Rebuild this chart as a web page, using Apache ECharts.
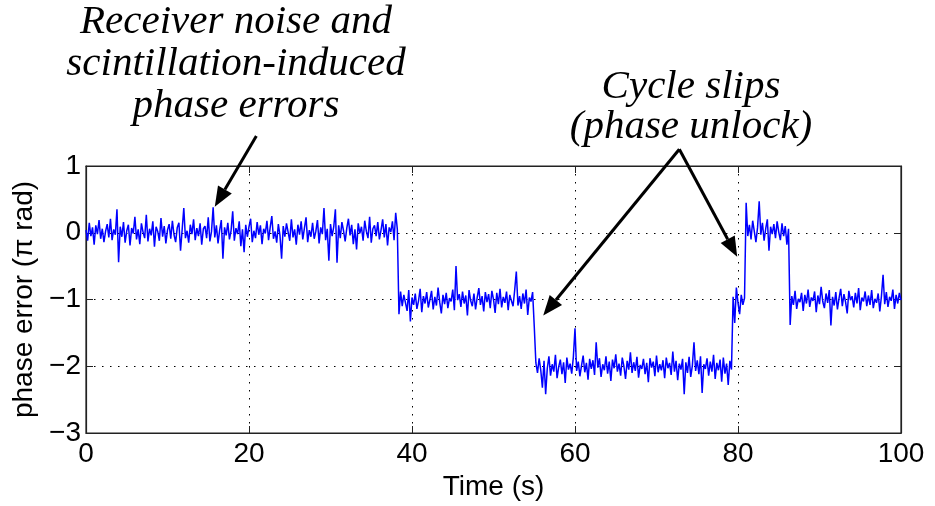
<!DOCTYPE html>
<html>
<head>
<meta charset="utf-8">
<title>phase error</title>
<script src="https://cdn.jsdelivr.net/npm/echarts@6/dist/echarts.min.js"></script>
<style>
    html, body { margin: 0; padding: 0; background: #fff; }
    #chart { width: 935px; height: 506px; }
</style>
</head>
<body>
<div id="chart"></div>
<script>
// sampling step of the trace (s)
const DT = 0.2;

// x / y ticks
const xTicks = [0, 20, 40, 60, 80, 100];
const yTicks = [-3, -2, -1, 0, 1];

// locked, near 0 (t = 0 .. 38.2 s)
const segLock0Start = 0;
const segLock0 = [
    0.04, -0.12, 0.15, -0.05, 0.08, -0.18, 0.11, -0.02, 0.19, -0.09,
    0.06, -0.14, 0.02, 0.13, -0.07, 0.21, -0.11, 0.05, -0.03, 0.35,
    -0.44, 0.09, -0.06, 0.16, -0.15, 0.03, 0.12, -0.19, 0.07, -0.01,
    0.24, -0.10, 0.05, -0.17, 0.14, 0.01, -0.08, 0.27, -0.13, 0.06,
    -0.04, 0.17, -0.21, 0.09, 0.02, -0.12, 0.22, -0.06, 0.10, -0.16,
    0.04, 0.13, -0.09, 0.18, -0.03, -0.14, 0.08, 0.15, -0.27, 0.05,
    0.37, -0.08, 0.03, -0.15, 0.12, -0.02, 0.20, -0.11, 0.07, -0.05,
    0.14, -0.18, 0.06, 0.10, -0.08, 0.23, -0.13, 0.02, 0.38, -0.07,
    0.11, -0.16, 0.04, 0.19, -0.39, 0.08, -0.04, 0.15, -0.10, 0.03,
    0.32, -0.12, 0.07, -0.02, 0.17, -0.20, 0.05, -0.29, 0.12, -0.06,
    0.09, 0.21, -0.14, 0.03, -0.08, 0.16, -0.03, 0.11, -0.17, 0.06,
    -0.01, 0.18, -0.11, 0.08, 0.25, -0.09, 0.02, -0.15, 0.13, -0.04,
    -0.39, 0.10, -0.06, 0.14, 0.01, -0.12, 0.20, -0.07, 0.05, -0.18,
    0.12, -0.03, 0.17, -0.10, 0.07, 0.23, -0.14, 0.04, -0.06, 0.15,
    -0.09, 0.02, 0.19, -0.16, 0.08, -0.02, 0.37, -0.11, 0.06, -0.42,
    0.13, -0.05, 0.09, 0.35, -0.45, 0.11, -0.08, 0.16, 0.03, -0.13,
    0.07, 0.21, -0.04, 0.12, -0.17, 0.05, -0.25, 0.14, -0.01, 0.09,
    -0.12, 0.18, 0.02, -0.08, 0.24, -0.15, 0.06, 0.11, -0.05, 0.16,
    -0.10, 0.04, 0.20, -0.07, 0.13, -0.19, 0.08, 0.01, 0.17, -0.11,
    0.30, 0.05
];

// first slip, near -1 (t = 38.4 .. 55.0 s)
const segSlip1Start = 38.4;
const segSlip1 = [
    -1.22, -0.88, -1.10, -0.93, -1.05, -1.17, -0.86, -1.33, -0.97, -1.08,
    -0.91, -1.14, -1.02, -0.84, -1.19, -0.95, -1.06, -0.89, -1.12, -1.00,
    -0.87, -1.15, -0.96, -1.09, -0.82, -1.04, -1.21, -0.93, -1.07, -0.90,
    -1.13, -0.98, -1.03, -0.85, -1.16, -0.50, -1.01, -0.92, -1.11, -0.88,
    -1.06, -0.94, -1.24, -0.86, -1.02, -1.10, -0.91, -1.15, -0.97, -0.83,
    -1.08, -0.95, -1.18, -0.89, -1.04, -0.92, -1.13, -0.87, -1.00, -1.20,
    -0.90, -1.07, -0.84, -1.12, -0.96, -1.05, -0.88, -1.16, -0.93, -1.02,
    -1.10, -0.86, -0.58, -1.09, -0.95, -1.14, -0.91, -1.06, -0.85, -1.23,
    -0.97, -1.03, -0.89, -1.40
];

// second slip, near -2 (t = 55.2 .. 79.2 s)
const segSlip2Start = 55.2;
const segSlip2 = [
    -1.95, -2.10, -1.88, -2.06, -2.32, -1.92, -2.42, -2.03, -1.85, -2.14,
    -1.97, -2.08, -1.83, -2.18, -2.01, -1.90, -2.12, -1.94, -2.25, -1.87,
    -2.05, -1.96, -2.11, -1.86, -1.43, -2.07, -1.93, -2.15, -1.99, -1.84,
    -2.09, -1.95, -2.20, -1.89, -2.04, -1.91, -2.13, -1.64, -2.02, -1.88,
    -2.16, -1.97, -2.06, -1.85, -2.11, -1.93, -2.22, -1.90, -2.03, -1.82,
    -2.08, -1.96, -2.14, -1.87, -2.00, -2.19, -1.92, -2.05, -1.79, -2.10,
    -1.94, -2.07, -1.86, -2.17, -1.98, -2.04, -1.89, -2.12, -1.95, -2.24,
    -1.88, -2.02, -1.93, -2.15, -1.84, -2.09, -1.97, -2.06, -1.91, -2.18,
    -1.87, -2.03, -1.95, -2.13, -1.78, -2.08, -1.92, -2.21, -1.96, -2.05,
    -1.89, -2.42, -1.94, -2.10, -1.86, -2.16, -1.99, -1.64, -2.07, -1.91,
    -2.12, -1.85, -2.40, -1.97, -2.04, -1.88, -2.14, -1.93, -2.08, -1.83,
    -2.19, -1.95, -2.06, -1.90, -2.23, -1.87, -2.11, -1.96, -2.28, -1.92,
    -2.05
];

// short step back to -1 (t = 79.4 .. 80.8 s)
const segSlip3Start = 79.4;
const segSlip3 = [-0.96, -1.35, -0.82, -1.05, -1.22, -0.93, -1.08, -0.98];

// back near 0 (t = 81.0 .. 86.2 s)
const segLock1Start = 81.0;
const segLock1 = [
    0.45, -0.05, 0.12, -0.10, 0.18, 0.02, -0.14, 0.08, 0.47, -0.03,
    0.15, -0.12, 0.06, 0.20, -0.27, 0.09, -0.02, 0.13, -0.08, 0.17,
    0.01, -0.11, 0.14, -0.05, 0.10, -0.18, 0.06
];

// last slip, near -1 (t = 86.4 .. 100 s)
const segSlip4Start = 86.4;
const segSlip4 = [
    -1.38, -0.95, -1.08, -0.87, -1.14, -0.99, -1.04, -0.90, -1.17, -0.93,
    -1.06, -0.85, -1.11, -0.97, -1.02, -0.88, -1.19, -0.94, -1.07, -0.81,
    -1.03, -1.13, -0.91, -1.05, -0.86, -1.39, -0.96, -1.09, -0.89, -1.15,
    -0.98, -0.84, -1.10, -0.92, -1.04, -1.21, -0.87, -1.01, -0.95, -1.12,
    -0.90, -1.06, -0.83, -1.16, -0.97, -1.03, -0.88, -1.10, -0.94, -1.08,
    -0.86, -1.13, -0.99, -1.05, -0.91, -1.18, -0.95, -0.63, -1.07, -0.89,
    -1.11, -0.96, -1.02, -0.85, -1.14, -0.93, -1.06, -0.90, -1.01
];

const segments = [
    [segLock0Start, segLock0],
    [segSlip1Start, segSlip1],
    [segSlip2Start, segSlip2],
    [segSlip3Start, segSlip3],
    [segLock1Start, segLock1],
    [segSlip4Start, segSlip4]
];

function buildTrace() {
    const pts = [];
    segments.forEach(seg => {
        const t0 = seg[0];
        seg[1].forEach((v, i) => {
            pts.push([Math.round((t0 + i * DT) * 100) / 100, v]);
        });
    });
    return pts;
}

function fmtMinus(v) {
    return String(v).replace('-', '\u2212');
}

const axisFont = '"Liberation Sans", Arial, sans-serif';
const noteFont = 'italic 41px "Liberation Serif", "Times New Roman", serif';

const chart = echarts.init(document.getElementById('chart'), null, { renderer: 'canvas' });

const gridDash = { color: '#000', width: 1, type: [1.5, 6.5] };
const frameLine = { show: true, onZero: false, lineStyle: { color: '#222', width: 1.2 } };
const inTick = { show: true, inside: true, length: 7, lineStyle: { color: '#222' } };

const option = {
    animation: false,
    backgroundColor: '#fff',
    grid: {
        left: 86, right: 34, top: 166, bottom: 70,
        show: true, borderColor: '#222', borderWidth: 1.2, backgroundColor: 'transparent'
    },
    xAxis: [{
        type: 'value', min: xTicks[0], max: xTicks[xTicks.length - 1], interval: 20,
        name: 'Time (s)', nameLocation: 'middle', nameGap: 40,
        nameTextStyle: { fontFamily: axisFont, fontSize: 28, color: '#000' },
        axisLine: frameLine,
        axisTick: inTick,
        axisLabel: { fontFamily: axisFont, fontSize: 28, color: '#000', margin: 7 },
        splitLine: { show: true, lineStyle: gridDash }
    }, {
        type: 'value', position: 'top', min: 0, max: 100, interval: 20,
        axisLine: frameLine, axisTick: inTick,
        axisLabel: { show: false }, splitLine: { show: false }
    }],
    yAxis: [{
        type: 'value', min: yTicks[0], max: yTicks[yTicks.length - 1], interval: 1,
        name: 'phase error (\u03c0 rad)', nameLocation: 'middle', nameGap: 40, nameRotate: 90,
        nameTextStyle: { fontFamily: axisFont, fontSize: 28, color: '#000' },
        axisLine: frameLine,
        axisTick: inTick,
        axisLabel: { fontFamily: axisFont, fontSize: 28, color: '#000', margin: 5, formatter: fmtMinus },
        splitLine: { show: true, lineStyle: gridDash }
    }, {
        type: 'value', position: 'right', min: -3, max: 1, interval: 1,
        axisLine: frameLine, axisTick: inTick,
        axisLabel: { show: false }, splitLine: { show: false }
    }],
    series: [{
        type: 'line',
        data: buildTrace(),
        showSymbol: false,
        symbol: 'none',
        xAxisIndex: 0, yAxisIndex: 0,
        lineStyle: { color: '#0000ff', width: 1.5 },
        z: 3
    }]
};

chart.setOption(option);

// annotation arrows, anchored in data coordinates
function arrowGraphics(from, to) {
    const p0 = chart.convertToPixel({ xAxisIndex: 0, yAxisIndex: 0 }, from);
    const p1 = chart.convertToPixel({ xAxisIndex: 0, yAxisIndex: 0 }, to);
    const dx = p1[0] - p0[0], dy = p1[1] - p0[1];
    const len = Math.sqrt(dx * dx + dy * dy);
    const ux = dx / len, uy = dy / len;
    const headLen = 20, headW = 8;
    const bx = p1[0] - ux * headLen, by = p1[1] - uy * headLen;
    return [{
        type: 'line', z: 10,
        shape: { x1: p0[0], y1: p0[1], x2: bx, y2: by },
        style: { stroke: '#000', lineWidth: 3 }
    }, {
        type: 'polygon', z: 10,
        shape: { points: [[p1[0], p1[1]], [bx - uy * headW, by + ux * headW], [bx + uy * headW, by - ux * headW]] },
        style: { fill: '#000' }
    }];
}

const notes = [{
    type: 'text', z: 10,
    x: 236, y: 1,
    style: {
        text: 'Receiver noise and\nscintillation-induced\nphase errors',
        font: noteFont, fill: '#000', align: 'center', verticalAlign: 'top', lineHeight: 42
    }
}, {
    type: 'text', z: 10,
    x: 691, y: 67,
    style: {
        text: 'Cycle slips\n(phase unlock)',
        font: noteFont, fill: '#000', align: 'center', verticalAlign: 'top', lineHeight: 40
    }
}];

const arrows = []
    .concat(arrowGraphics([20.9, 1.45], [15.8, 0.39]))
    .concat(arrowGraphics([72.8, 1.25], [56.1, -1.24]))
    .concat(arrowGraphics([72.8, 1.25], [79.9, -0.36]));

chart.setOption({ graphic: notes.concat(arrows) });
</script>
</body>
</html>
